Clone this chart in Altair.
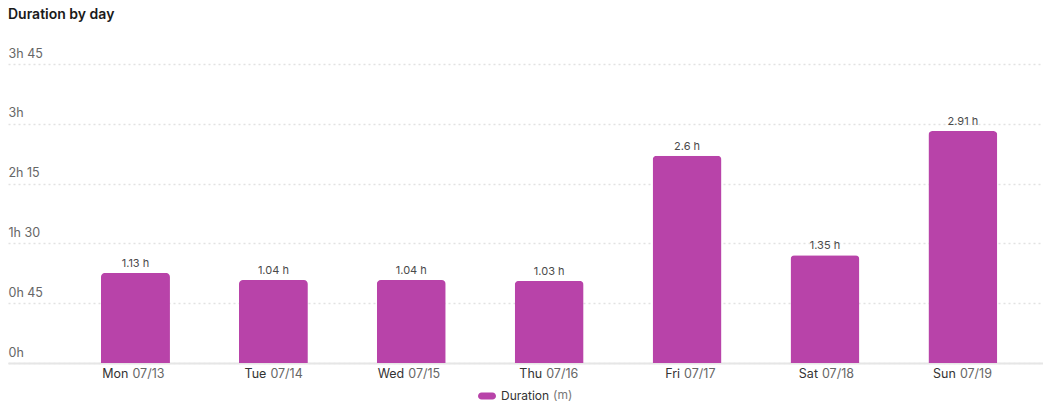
import altair as alt
import pandas as pd

days = ["Mon", "Tue", "Wed", "Thu", "Fri", "Sat", "Sun"]
dates = ["07/13", "07/14", "07/15", "07/16", "07/17", "07/18", "07/19"]
hours = [1.13, 1.04, 1.04, 1.03, 2.6, 1.35, 2.91]
y_ticks = [0, 45, 90, 135, 180, 225]
series_name = "Duration"

df = pd.DataFrame({"day": days, "date": dates, "hours": hours})
df["key"] = df["day"] + " " + df["date"]
df["minutes"] = df["hours"] * 60
df["label"] = [f"{h:g} h" for h in hours]
df["series"] = series_name

FONT = "Inter"
PURPLE = "#b843a9"
W, H = 1035, 333

xs = alt.Scale(paddingInner=0.5, paddingOuter=0.5027, align=0.6708)
x_enc = alt.X(
    "key:N", sort=list(df["key"]), scale=xs,
    axis=alt.Axis(labels=False, ticks=False, title=None, grid=False,
                  domainColor="#e6e6e6", domainWidth=2),
)
y_enc = alt.Y(
    "minutes:Q",
    scale=alt.Scale(domain=[0, 250.6], nice=False),
    axis=alt.Axis(
        values=y_ticks, title=None, ticks=False, domain=False,
        labelExpr="floor(datum.value/60) + 'h' + (datum.value % 60 ? ' ' + (datum.value % 60) : '')",
        labelAlign="left", labelPadding=0, labelBaseline="alphabetic", labelOffset=-7,
        labelFontSize=12.5, labelColor="#666666", labelFont=FONT,
        gridDash=[2, 3], gridColor="#e2e2e2", gridWidth=1.5,
    ),
)

pill = "M-0.6,-0.4 L0.6,-0.4 A0.4,0.4 0 0 1 0.6,0.4 L-0.6,0.4 A0.4,0.4 0 0 1 -0.6,-0.4 Z"

bars = alt.Chart(df).mark_bar(cornerRadiusTopLeft=4, cornerRadiusTopRight=4).encode(
    x=x_enc, y=y_enc,
    color=alt.Color(
        "series:N", scale=alt.Scale(range=[PURPLE]),
        legend=alt.Legend(
            orient="none", legendX=470, legendY=357, direction="horizontal",
            title="(m)", titleOrient="right", titleColor="#777777", titleFontWeight="normal",
            titleFontSize=12, titleFont=FONT, titlePadding=4,
            symbolType=pill, symbolSize=324, symbolStrokeWidth=0, symbolOpacity=1,
            labelFontSize=12, labelColor="#333333", labelFont=FONT, labelOffset=5,
        ),
    ),
)

value_text = alt.Chart(df).mark_text(
    baseline="alphabetic", dy=-6, fontSize=11, color="#4a4a4a", font=FONT
).encode(x=x_enc, y=y_enc, text="label:N")

day_text = alt.Chart(df).mark_text(
    align="right", baseline="middle", dx=-7, fontSize=12.5, color="#333333", font=FONT
).encode(x=x_enc, y=alt.value(H + 11), text="day:N")

date_text = alt.Chart(df).mark_text(
    align="left", baseline="middle", dx=-3, fontSize=12.5, color="#666666", font=FONT
).encode(x=x_enc, y=alt.value(H + 11), text="date:N")

chart = alt.layer(bars, value_text, day_text, date_text).properties(
    width=W, height=H,
    title=alt.TitleParams(
        "Duration by day", anchor="start", frame="group", fontSize=14, fontWeight=600,
        color="#1a1a1a", font=FONT, baseline="alphabetic", offset=-2.5,
    ),
    autosize=alt.AutoSizeParams(type="none"),
    padding={"left": 0, "top": 22, "right": 0, "bottom": 40},
).configure_view(stroke=None)

chart.save("out.html", embed_options={"renderer": "svg", "actions": False})
